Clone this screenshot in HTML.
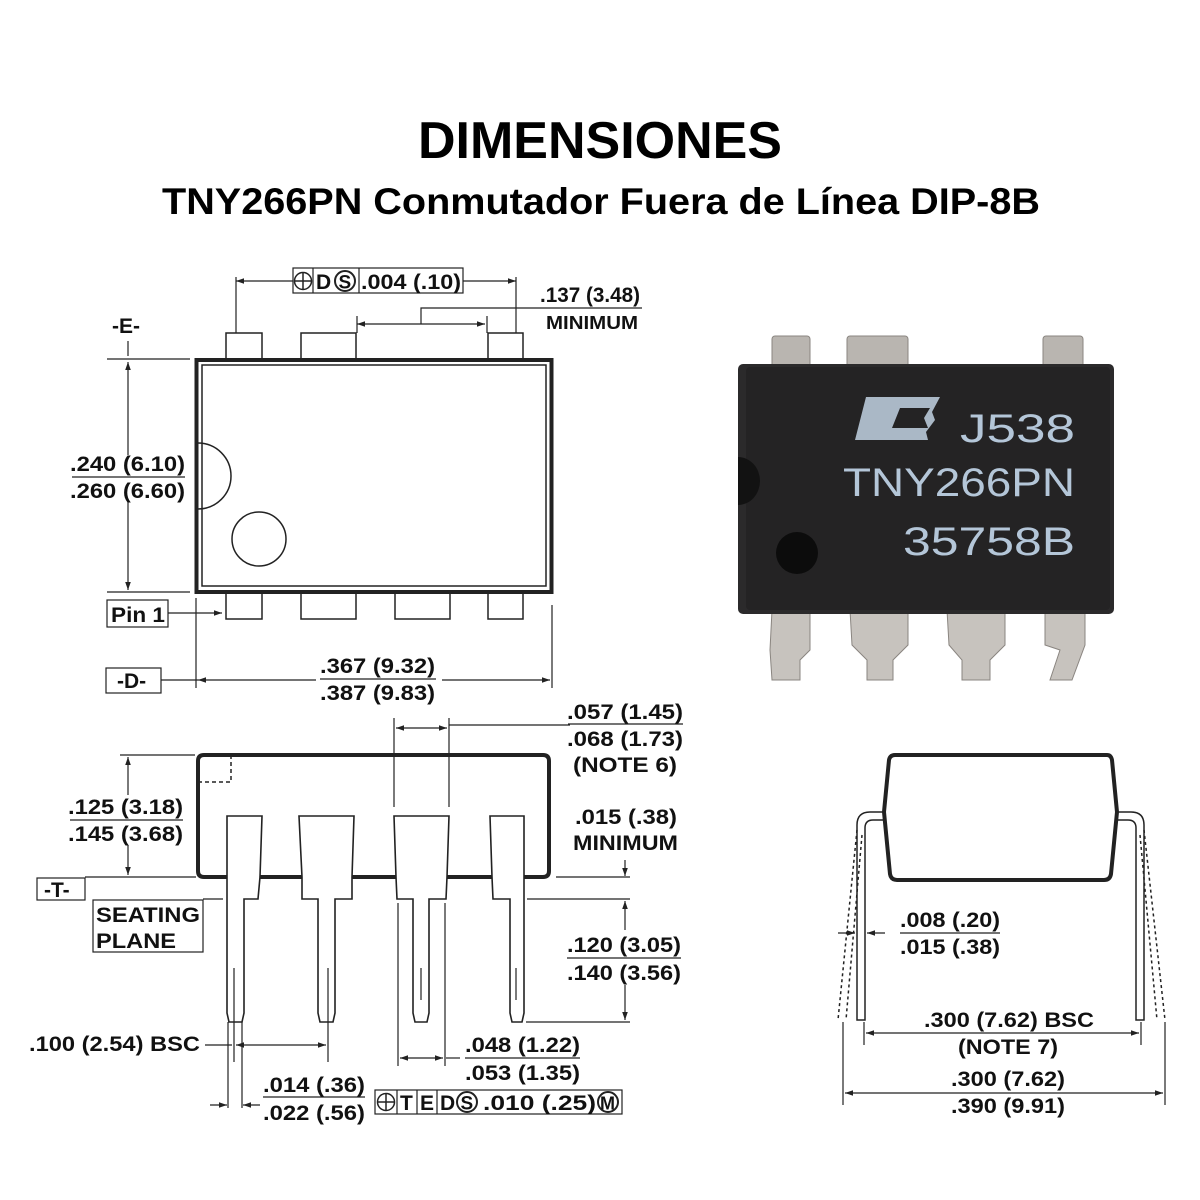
<!DOCTYPE html>
<html><head><meta charset="utf-8"><style>
html,body{margin:0;padding:0;background:#fff;width:1200px;height:1200px;overflow:hidden}
svg{display:block}
text{font-family:"Liberation Sans",Arial,sans-serif;font-weight:bold;fill:#111}
.d{font-size:21px}
</style></head><body>
<svg width="1200" height="1200" viewBox="0 0 1200 1200" xmlns="http://www.w3.org/2000/svg">
<defs>
<marker id="a" viewBox="0 0 10 10" refX="10" refY="5" markerWidth="14" markerHeight="8" markerUnits="userSpaceOnUse" orient="auto-start-reverse"><path d="M0,1.5 L10,5 L0,8.5 Z" fill="#222"/></marker>
</defs>
<text x="600" y="158" text-anchor="middle" font-size="52" textLength="364" lengthAdjust="spacingAndGlyphs" style="fill:#000">DIMENSIONES</text>
<text x="601" y="214" text-anchor="middle" font-size="37" textLength="878" lengthAdjust="spacingAndGlyphs" style="fill:#000">TNY266PN Conmutador Fuera de Línea DIP-8B</text>

<g stroke="#222" fill="none" stroke-width="1.2">
<!-- TOP VIEW -->
<rect x="196.5" y="360" width="355" height="232" stroke-width="4"/>
<rect x="202" y="365" width="344" height="221" stroke-width="1.5"/>
<path d="M198,443 A33,33 0 0 1 198,509" stroke-width="1.5"/>
<ellipse cx="259" cy="539" rx="27" ry="27" stroke-width="1.5"/>
<rect x="226" y="333" width="36" height="26" stroke-width="1.5"/>
<rect x="301" y="333" width="55" height="26" stroke-width="1.5"/>
<rect x="488" y="333" width="35" height="26" stroke-width="1.5"/>
<rect x="226" y="593" width="36" height="26" stroke-width="1.5"/>
<rect x="301" y="593" width="55" height="26" stroke-width="1.5"/>
<rect x="395" y="593" width="55" height="26" stroke-width="1.5"/>
<rect x="488" y="593" width="35" height="26" stroke-width="1.5"/>
<line x1="236" y1="277" x2="236" y2="333"/><line x1="516" y1="277" x2="516" y2="333"/>
<line x1="236" y1="281" x2="293" y2="281" marker-start="url(#a)"/>
<line x1="463" y1="281" x2="516" y2="281" marker-end="url(#a)"/>
<line x1="357" y1="324" x2="485" y2="324" marker-start="url(#a)" marker-end="url(#a)"/>
<line x1="357" y1="316" x2="357" y2="333"/><line x1="487" y1="316" x2="487" y2="333"/>
<polyline points="421,324 421,308 642,308"/>
<line x1="107" y1="359" x2="190" y2="359"/><line x1="107" y1="592" x2="190" y2="592"/>
<line x1="128" y1="362" x2="128" y2="455" marker-start="url(#a)"/>
<line x1="128" y1="502" x2="128" y2="590" marker-end="url(#a)"/>
<line x1="128" y1="341" x2="128" y2="356"/>
<line x1="72" y1="477" x2="185" y2="477"/>
<rect x="107" y="600" width="61" height="27"/>
<line x1="168" y1="613" x2="222" y2="613" marker-end="url(#a)"/>
<rect x="106" y="668" width="55" height="25"/>
<line x1="161" y1="680" x2="198" y2="680"/>
<line x1="196" y1="598" x2="196" y2="688"/><line x1="552" y1="605" x2="552" y2="688"/>
<line x1="198" y1="680" x2="316" y2="680" marker-start="url(#a)"/>
<line x1="442" y1="680" x2="550" y2="680" marker-end="url(#a)"/>
<line x1="320" y1="679" x2="436" y2="679"/>

<!-- SIDE VIEW -->
<path d="M204,755 L543,755 Q549,755 549,761 L549,871 Q549,877 543,877 L204,877 Q198,877 198,871 L198,761 Q198,755 204,755 Z" stroke-width="4"/>
<polyline points="231,755 231,782 198,782" stroke-dasharray="4,3" stroke-width="1.5"/>
<g stroke-width="1.6" fill="#fff">
<path d="M227,816 L262,816 L260,877 L258,899 L244,899 L244,1013 L242,1022 L229,1022 L227,1013 Z"/>
<path d="M299,816 L354,816 L352,877 L352,899 L335,899 L335,1013 L333,1022 L320,1022 L318,1013 L318,899 L302,899 L302,877 Z"/>
<path d="M394,816 L449,816 L447,877 L446,899 L429,899 L429,1013 L427,1022 L415,1022 L413,1013 L413,899 L397,899 L396,877 Z"/>
<path d="M490,816 L524,816 L524,1013 L522,1022 L512,1022 L510,1013 L510,899 L493,899 L492,877 Z"/>
</g>
<line x1="394" y1="718" x2="394" y2="807"/><line x1="449" y1="718" x2="449" y2="807"/>
<line x1="396" y1="728" x2="447" y2="728" marker-start="url(#a)" marker-end="url(#a)"/>
<line x1="449" y1="725" x2="570" y2="725"/>
<line x1="568" y1="724" x2="683" y2="724"/>
<line x1="120" y1="755" x2="195" y2="755"/>
<line x1="128" y1="757" x2="128" y2="795" marker-start="url(#a)"/>
<line x1="128" y1="845" x2="128" y2="875" marker-end="url(#a)"/>
<line x1="70" y1="820" x2="183" y2="820"/>
<rect x="37" y="878" width="48" height="22"/>
<line x1="85" y1="877" x2="196" y2="877"/>
<line x1="556" y1="877" x2="630" y2="877"/>
<rect x="93" y="900" width="110" height="52"/>
<line x1="203" y1="899" x2="223" y2="899"/>
<line x1="527" y1="899" x2="630" y2="899"/>
<line x1="625" y1="860" x2="625" y2="876" marker-end="url(#a)"/>
<line x1="625" y1="930" x2="625" y2="901" marker-end="url(#a)"/>
<line x1="625" y1="985" x2="625" y2="1020" marker-end="url(#a)"/>
<line x1="526" y1="1022" x2="630" y2="1022"/>
<line x1="567" y1="958" x2="681" y2="958"/>
<line x1="234" y1="968" x2="234" y2="1062"/><line x1="328" y1="968" x2="328" y2="1062"/>
<line x1="421" y1="968" x2="421" y2="1000"/><line x1="516" y1="968" x2="516" y2="1000"/>
<line x1="205" y1="1045" x2="232" y2="1045"/>
<line x1="236" y1="1045" x2="326" y2="1045" marker-start="url(#a)" marker-end="url(#a)"/>
<line x1="228" y1="1022" x2="228" y2="1108"/><line x1="242" y1="1022" x2="242" y2="1108"/>
<line x1="210" y1="1105" x2="227" y2="1105" marker-end="url(#a)"/>
<line x1="260" y1="1105" x2="243" y2="1105" marker-end="url(#a)"/>
<line x1="263" y1="1097" x2="365" y2="1097"/>
<line x1="398" y1="903" x2="398" y2="1066"/><line x1="445" y1="903" x2="445" y2="1066"/>
<line x1="400" y1="1058" x2="443" y2="1058" marker-start="url(#a)" marker-end="url(#a)"/>
<line x1="446" y1="1058" x2="460" y2="1058"/>
<line x1="465" y1="1058" x2="580" y2="1058"/>
<rect x="375" y="1090" width="247" height="24"/>
<line x1="397" y1="1090" x2="397" y2="1114"/><line x1="417" y1="1090" x2="417" y2="1114"/><line x1="437" y1="1090" x2="437" y2="1114"/>
<rect x="293" y="268" width="170" height="25"/>
<line x1="313" y1="268" x2="313" y2="293"/><line x1="359" y1="268" x2="359" y2="293"/>
<!-- circled symbols -->
<circle cx="303" cy="281" r="8.5" stroke-width="1.5"/><line x1="294.5" y1="281" x2="311.5" y2="281" stroke-width="1.5"/><line x1="303" y1="272.5" x2="303" y2="289.5" stroke-width="1.5"/>
<circle cx="345" cy="281" r="10" stroke-width="2"/>
<circle cx="386" cy="1102" r="8.5" stroke-width="1.5"/><line x1="377.5" y1="1102" x2="394.5" y2="1102" stroke-width="1.5"/><line x1="386" y1="1093.5" x2="386" y2="1110.5" stroke-width="1.5"/>
<circle cx="467" cy="1102" r="10" stroke-width="2"/>
<circle cx="608" cy="1102" r="10" stroke-width="2"/>

<!-- END VIEW -->
<path d="M895,755 L1107,755 Q1111,755 1112,760 L1117,812 L1111,874 Q1110,880 1104,880 L897,880 Q891,880 890,874 L884,812 L889,760 Q890,755 895,755 Z" stroke-width="4"/>
<path d="M885,812 L870,812 Q857,812 857,825 L857,1020 L865,1020 L865,828 Q865,820 873,820 L886,820" stroke-width="1.5"/>
<path d="M1116,812 L1131,812 Q1144,812 1144,825 L1144,1020 L1136,1020 L1136,828 Q1136,820 1128,820 L1115,820" stroke-width="1.5"/>
<g stroke-dasharray="3,3" stroke-width="1.5">
<line x1="857" y1="830" x2="838" y2="1020"/><line x1="862" y1="835" x2="846" y2="1020"/>
<line x1="1144" y1="830" x2="1165" y2="1020"/><line x1="1140" y1="835" x2="1157" y2="1020"/>
</g>
<line x1="838" y1="933" x2="855" y2="933" marker-end="url(#a)"/>
<line x1="885" y1="933" x2="867" y2="933" marker-end="url(#a)"/>
<line x1="900" y1="933" x2="1000" y2="933"/>
<line x1="864" y1="1022" x2="864" y2="1045"/><line x1="1141" y1="1022" x2="1141" y2="1045"/>
<line x1="866" y1="1033" x2="1139" y2="1033" marker-start="url(#a)" marker-end="url(#a)"/>
<line x1="843" y1="1022" x2="843" y2="1105"/><line x1="1165" y1="1022" x2="1165" y2="1105"/>
<line x1="845" y1="1093" x2="950" y2="1093" marker-start="url(#a)"/>
<line x1="1066" y1="1093" x2="1163" y2="1093" marker-end="url(#a)"/>
<line x1="950" y1="1093" x2="1066" y2="1093"/>
</g>

<!-- Texts -->
<g class="d">
<text x="316" y="289" font-size="21">D</text>
<text x="338.5" y="288.5" font-size="19">S</text>
<text x="361" y="289" textLength="100" lengthAdjust="spacingAndGlyphs">.004 (.10)</text>
<text x="540" y="302" textLength="100" lengthAdjust="spacingAndGlyphs">.137 (3.48)</text>
<text x="546" y="329" font-size="18" textLength="92" lengthAdjust="spacingAndGlyphs">MINIMUM</text>
<text x="112" y="333">-E-</text>
<text x="70" y="471" textLength="115" lengthAdjust="spacingAndGlyphs">.240 (6.10)</text>
<text x="70" y="498" textLength="115" lengthAdjust="spacingAndGlyphs">.260 (6.60)</text>
<text x="111" y="622" textLength="54" lengthAdjust="spacingAndGlyphs">Pin 1</text>
<text x="117" y="688">-D-</text>
<text x="320" y="673" textLength="115" lengthAdjust="spacingAndGlyphs">.367 (9.32)</text>
<text x="320" y="700" textLength="115" lengthAdjust="spacingAndGlyphs">.387 (9.83)</text>
<text x="567" y="719" textLength="116" lengthAdjust="spacingAndGlyphs">.057 (1.45)</text>
<text x="567" y="746" textLength="116" lengthAdjust="spacingAndGlyphs">.068 (1.73)</text>
<text x="573" y="772" textLength="104" lengthAdjust="spacingAndGlyphs">(NOTE 6)</text>
<text x="68" y="814" textLength="115" lengthAdjust="spacingAndGlyphs">.125 (3.18)</text>
<text x="68" y="841" textLength="115" lengthAdjust="spacingAndGlyphs">.145 (3.68)</text>
<text x="575" y="824" textLength="102" lengthAdjust="spacingAndGlyphs">.015 (.38)</text>
<text x="573" y="850" textLength="105" lengthAdjust="spacingAndGlyphs">MINIMUM</text>
<text x="44" y="897">-T-</text>
<text x="96" y="922" textLength="104" lengthAdjust="spacingAndGlyphs">SEATING</text>
<text x="96" y="948" textLength="80" lengthAdjust="spacingAndGlyphs">PLANE</text>
<text x="567" y="952" textLength="114" lengthAdjust="spacingAndGlyphs">.120 (3.05)</text>
<text x="567" y="980" textLength="114" lengthAdjust="spacingAndGlyphs">.140 (3.56)</text>
<text x="29" y="1051" textLength="171" lengthAdjust="spacingAndGlyphs">.100 (2.54) BSC</text>
<text x="465" y="1052" textLength="115" lengthAdjust="spacingAndGlyphs">.048 (1.22)</text>
<text x="465" y="1080" textLength="115" lengthAdjust="spacingAndGlyphs">.053 (1.35)</text>
<text x="263" y="1092" textLength="102" lengthAdjust="spacingAndGlyphs">.014 (.36)</text>
<text x="263" y="1120" textLength="102" lengthAdjust="spacingAndGlyphs">.022 (.56)</text>
<text x="400" y="1110">T</text>
<text x="420" y="1110">E</text>
<text x="440" y="1110">D</text>
<text x="460.5" y="1109.5" font-size="19">S</text>
<text x="483" y="1110" textLength="113" lengthAdjust="spacingAndGlyphs">.010 (.25)</text>
<text x="600" y="1109.5" font-size="18">M</text>
<text x="900" y="927" textLength="100" lengthAdjust="spacingAndGlyphs">.008 (.20)</text>
<text x="900" y="954" textLength="100" lengthAdjust="spacingAndGlyphs">.015 (.38)</text>
<text x="924" y="1027" textLength="170" lengthAdjust="spacingAndGlyphs">.300 (7.62) BSC</text>
<text x="958" y="1054" textLength="100" lengthAdjust="spacingAndGlyphs">(NOTE 7)</text>
<text x="951" y="1086" textLength="114" lengthAdjust="spacingAndGlyphs">.300 (7.62)</text>
<text x="951" y="1113" textLength="114" lengthAdjust="spacingAndGlyphs">.390 (9.91)</text>
</g>

<!-- PHOTO -->
<g>
<rect x="772" y="336" width="38" height="32" rx="3" fill="#b9b5b0" stroke="#8a8580"/>
<rect x="847" y="336" width="61" height="32" rx="3" fill="#b9b5b0" stroke="#8a8580"/>
<rect x="1043" y="336" width="40" height="32" rx="3" fill="#b9b5b0" stroke="#8a8580"/>
<path d="M772,610 L810,610 L810,650 L800,660 L800,680 L772,680 L770,650 Z" fill="#c7c3be" stroke="#8a8580"/>
<path d="M850,610 L908,610 L908,645 L893,660 L893,680 L867,680 L867,660 L852,645 Z" fill="#c7c3be" stroke="#8a8580"/>
<path d="M947,610 L1005,610 L1005,645 L990,660 L990,680 L962,680 L962,660 L949,645 Z" fill="#c7c3be" stroke="#8a8580"/>
<path d="M1045,610 L1085,610 L1085,645 L1072,680 L1050,680 L1060,650 L1045,645 Z" fill="#c7c3be" stroke="#8a8580"/>
<rect x="738" y="364" width="376" height="250" rx="5" fill="#2b2a2b"/>
<rect x="746" y="367" width="364" height="243" rx="4" fill="#242324"/>
<path d="M738,457 A22,24 0 0 1 738,505 Z" fill="#121212"/>
<circle cx="797" cy="553" r="21" fill="#0c0c0c"/>
<path d="M866,397 L940,397 L932,412 L935,420 L926,432 L928,440 L855,440 Z" fill="#aab8c6"/>
<path d="M900,408 L930,408 L924,418 L928,428 L892,428 Z" fill="#242324"/>
<text x="960" y="442" font-size="40" textLength="115" lengthAdjust="spacingAndGlyphs" style="fill:#b4c6d8;font-weight:normal">J538</text>
<text x="843" y="496" font-size="40" textLength="232" lengthAdjust="spacingAndGlyphs" style="fill:#b4c6d8;font-weight:normal">TNY266PN</text>
<text x="903" y="555" font-size="40" textLength="172" lengthAdjust="spacingAndGlyphs" style="fill:#b4c6d8;font-weight:normal">35758B</text>
</g>
</svg>
</body></html>
